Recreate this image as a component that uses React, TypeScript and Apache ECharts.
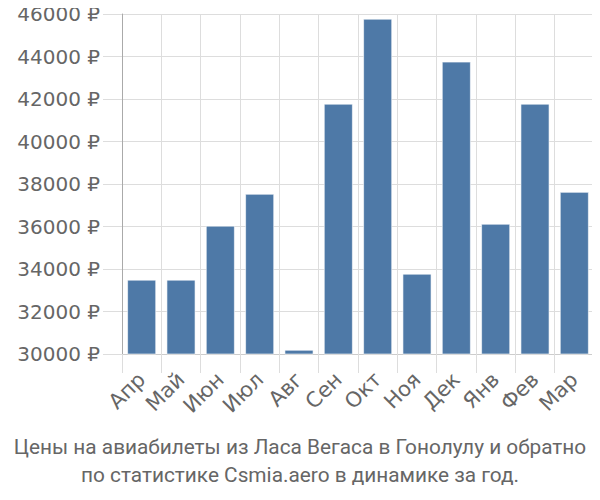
import React, { useEffect, useRef } from "react";
import * as echarts from "echarts";

const months = ["Апр", "Май", "Июн", "Июл", "Авг", "Сен", "Окт", "Ноя", "Дек", "Янв", "Фев", "Мар"];
const prices = [33500, 33500, 36040, 37540, 30200, 41780, 45780, 33780, 43760, 36130, 41780, 37630];
const titleLines = [
  "Цены на авиабилеты из Ласа Вегаса в Гонолулу и обратно",
  "по статистике Csmia.aero в динамике за год.",
];

const FONT = "'DejaVu Sans', sans-serif";

export default function App() {
  const ref = useRef<HTMLDivElement>(null);
  useEffect(() => {
    if (!ref.current) return;
    const chart = echarts.init(ref.current, null, { renderer: "svg" });
    chart.setOption({
      animation: false,
      title: {
        text: titleLines.join("\n"),
        left: "center",
        top: 428,
        padding: 5,
        textStyle: {
          fontSize: 20.8,
          fontWeight: "normal",
          color: "#666",
          lineHeight: 28,
          fontFamily: "Roboto, sans-serif",
        },
      },
      grid: { left: 122, right: 6, top: 14, bottom: 146 },
      xAxis: {
        type: "category",
        data: months,
        boundaryGap: true,
        axisLine: { lineStyle: { color: "#ccc" } },
        axisTick: { show: true, length: 19, interval: 0, lineStyle: { color: "#ddd" } },
        splitLine: { show: true, interval: 0, lineStyle: { color: "#ddd" } },
        axisLabel: {
          interval: 0,
          rotate: 45,
          fontSize: 21,
          color: "#666",
          fontFamily: FONT,
          margin: 22,
        },
      },
      yAxis: {
        type: "value",
        min: 30000,
        max: 46000,
        interval: 2000,
        axisLine: { show: true, lineStyle: { color: "#aaa" } },
        axisTick: { show: true, length: 19, lineStyle: { color: "#ddd" } },
        splitLine: { show: true, lineStyle: { color: "#ddd" } },
        axisLabel: {
          formatter: (v: number) => v + " ₽",
          fontSize: 20,
          color: "#666",
          fontFamily: FONT,
          margin: 22,
        },
      },
      series: [
        {
          type: "bar",
          data: prices,
          barCategoryGap: "26%",
          itemStyle: {
            color: "#4e79a7",
            borderColor: "rgba(255,255,255,0.6)",
            borderWidth: 1,
          },
        },
      ],
    });
    return () => chart.dispose();
  }, []);
  return <div ref={ref} style={{ width: 600, height: 500, margin: -8 }} />;
}
